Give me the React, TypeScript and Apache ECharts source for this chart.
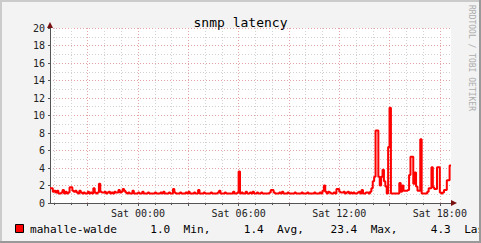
import { useEffect, useRef } from "react";
import * as echarts from "echarts";

const titleText = "snmp latency";
const seriesName = "mahalle-walde";
const watermark = "RRDTOOL / TOBI OETIKER";
const startMinute = 18 * 60 + 45; // Fri 18:45
const stepMinutes = 5;

// one row = one hour of 5-minute samples
const latency: number[] = [
  1.7, 1.7, 1.3, 1.4, 1.2, 1.4, 1.1, 1.1, 1.2, 1.5, 1.1, 1.3,
  1.1, 1.2, 1.8, 1.8, 1.4, 1.3, 1.4, 1.2, 1.1, 1.4, 1.2, 1.1,
  1.2, 1.1, 1.1, 1.3, 1.1, 1.2, 1.1, 1.7, 1.2, 1.1, 1.2, 2.2,
  1.3, 1.2, 1.2, 1.3, 1.1, 1.2, 1.3, 1.1, 1.2, 1.1, 1.3, 1.2,
  1.2, 1.5, 1.2, 1.3, 1.6, 1.4, 1.2, 1.1, 1.2, 1.1, 1.1, 1.4,
  1.1, 1.1, 1.1, 1.2, 1.1, 1.1, 1.3, 1.1, 1.1, 1.1, 1.2, 1.1,
  1.1, 1.1, 1.1, 1.2, 1.1, 1.1, 1.1, 1.2, 1.1, 1.3, 1.1, 1.1,
  1.1, 1.2, 1.1, 1.1, 1.6, 1.2, 1.1, 1.1, 1.1, 1.2, 1.1, 1.1,
  1.1, 1.2, 1.1, 1.3, 1.1, 1.1, 1.1, 1.2, 1.1, 1.1, 1.5, 1.1,
  1.1, 1.1, 1.2, 1.1, 1.1, 1.1, 1.1, 1.2, 1.1, 1.1, 1.1, 1.1,
  1.2, 1.4, 1.1, 1.1, 1.1, 1.2, 1.1, 1.1, 1.1, 1.1, 1.1, 1.3,
  1.1, 1.1, 1.2, 3.6, 1.1, 1.2, 1.1, 1.1, 1.3, 1.1, 1.1, 1.2,
  1.1, 1.3, 1.1, 1.1, 1.2, 1.1, 1.1, 1.2, 1.1, 1.1, 1.1, 1.1,
  1.1, 1.2, 1.5, 1.5, 1.2, 1.1, 1.1, 1.1, 1.2, 1.1, 1.3, 1.1,
  1.1, 1.1, 1.2, 1.1, 1.1, 1.1, 1.1, 1.2, 1.1, 1.1, 1.1, 1.1,
  1.2, 1.1, 1.1, 1.1, 1.2, 1.1, 1.1, 1.1, 1.1, 1.2, 1.1, 1.1,
  1.1, 1.2, 1.1, 1.4, 2.0, 1.3, 1.1, 1.3, 1.2, 1.1, 1.1, 1.2,
  1.1, 1.6, 1.6, 1.3, 1.2, 1.2, 1.3, 1.1, 1.2, 1.3, 1.1, 1.2,
  1.1, 1.2, 1.1, 1.1, 1.2, 1.3, 1.1, 1.5, 1.1, 1.1, 1.2, 1.2,
  1.1, 1.3, 1.7, 2.5, 3.0, 8.3, 8.3, 3.0, 2.0, 3.0, 3.8, 2.5,
  1.9, 1.1, 6.4, 10.9, 1.1, 1.1, 1.1, 1.1, 1.1, 1.1, 2.3, 1.3,
  2.0, 1.4, 1.4, 1.4, 1.5, 3.2, 5.3, 5.3, 2.2, 3.5, 1.9, 1.4,
  1.4, 7.3, 1.1, 1.1, 1.1, 1.1, 1.3, 1.7, 1.7, 4.1, 1.8, 1.6,
  1.6, 4.1, 4.1, 1.2, 1.1, 1.2, 1.5, 1.5, 2.6, 2.6, 4.3, 4.3,
];

const statValues = [1.0, 1.4, 23.4, 4.3];
const statLabels = ["Min,", "Avg,", "Max,", "Last"];
const yMin = 0;
const yMax = 20;

const pad2 = (n: number) => String(n).padStart(2, "0");
const minuteOf = (i: number) => (startMinute + i * stepMinutes) % 1440;
const categories = latency.map((_, i) => {
  const total = startMinute + i * stepMinutes;
  const day = total >= 1440 ? "Sat" : "Fri";
  const m = total % 1440;
  return `${day} ${pad2(Math.floor(m / 60))}:${pad2(m % 60)}`;
});
const legendLine = (
  seriesName +
  statValues.map((v, k) => v.toFixed(1).padStart(8) + "  " + statLabels[k]).join("")
).replace(/ /g, "\u00A0");

const mono = "DejaVu Sans Mono";
const minorGrid = "#d2d2d2";
const majorGrid = "#e6a3a3";
const axisColor = "#555555";
const arrowColor = "#7a1010";

export default function App() {
  const ref = useRef<HTMLDivElement>(null);
  useEffect(() => {
    if (!ref.current) return;
    const chart = echarts.init(ref.current, undefined, { renderer: "svg" });
    const isHour = (i: number) => minuteOf(i) % 60 === 0;
    const isMajor = (i: number) => minuteOf(i) % 180 === 0;
    const isLabel = (i: number) => minuteOf(i) % 360 === 0;
    chart.setOption({
      animation: false,
      backgroundColor: "#f3f3f3",
      title: {
        text: titleText,
        left: "center",
        top: 11,
        textStyle: { fontFamily: mono, fontSize: 13, fontWeight: "normal", color: "#000" },
      },
      grid: {
        left: 50,
        top: 28,
        width: 401,
        height: 175,
        show: true,
        backgroundColor: "#ffffff",
        borderWidth: 0,
      },
      xAxis: [
        {
          type: "category",
          data: categories,
          boundaryGap: false,
          axisLine: { show: true, lineStyle: { color: axisColor, width: 1 } },
          axisTick: { show: true, length: 2, interval: (i: number) => isHour(i), lineStyle: { color: axisColor } },
          axisLabel: { show: false },
          splitLine: {
            show: true,
            interval: (i: number) => isHour(i),
            lineStyle: { color: minorGrid, type: [1, 2], width: 1 },
          },
        },
        {
          type: "category",
          data: categories,
          boundaryGap: false,
          position: "bottom",
          axisLine: { show: false },
          axisTick: { show: true, length: 3, interval: (i: number) => isMajor(i), lineStyle: { color: axisColor } },
          axisLabel: {
            interval: (i: number) => isLabel(i),
            fontFamily: mono,
            fontSize: 10,
            color: "#222",
            margin: 5,
          },
          splitLine: {
            show: true,
            interval: (i: number) => isMajor(i),
            lineStyle: { color: majorGrid, type: [1, 2], width: 1 },
          },
        },
      ],
      yAxis: [
        {
          type: "value",
          min: yMin,
          max: yMax,
          interval: 1,
          position: "left",
          axisLine: { show: false },
          axisTick: { show: false },
          axisLabel: { show: false },
          splitLine: { show: true, lineStyle: { color: minorGrid, type: [1, 2], width: 1 } },
        },
        {
          type: "value",
          min: yMin,
          max: yMax,
          interval: 2,
          position: "left",
          axisLine: { show: true, lineStyle: { color: axisColor, width: 1 } },
          axisTick: { show: true, length: 2, lineStyle: { color: axisColor } },
          axisLabel: { fontFamily: mono, fontSize: 10, color: "#222", margin: 5 },
          splitLine: { show: true, lineStyle: { color: majorGrid, type: [1, 2], width: 1 } },
        },
      ],
      series: [
        {
          name: seriesName,
          type: "line",
          xAxisIndex: 0,
          yAxisIndex: 0,
          data: latency,
          step: "end",
          symbol: "none",
          showSymbol: false,
          lineStyle: { color: "#ff0000", width: 2 },
          z: 3,
        },
      ],
      graphic: [
        {
          type: "polygon",
          shape: { points: [[47, 28], [53, 28], [50, 22]] },
          style: { fill: arrowColor },
          z: 10,
        },
        {
          type: "polygon",
          shape: { points: [[451, 200], [451, 206], [457, 203]] },
          style: { fill: arrowColor },
          z: 10,
        },
        {
          type: "rect",
          shape: { x: 15.5, y: 224.5, width: 8, height: 8 },
          style: { fill: "#ff0000", stroke: "#000", lineWidth: 1 },
          z: 10,
        },
        {
          type: "text",
          x: 30,
          y: 229,
          style: {
            text: legendLine,
            font: `11.1px "${mono}"`,
            fill: "#000",
            textAlign: "left",
            textVerticalAlign: "middle",
          },
          z: 10,
        },
        {
          type: "text",
          x: 471,
          y: 5,
          rotation: -Math.PI / 2,
          style: {
            text: watermark,
            font: `8px "${mono}"`,
            fill: "#acacac",
            textAlign: "left",
            textVerticalAlign: "middle",
          },
          z: 10,
        },
        { type: "rect", shape: { x: 0, y: 0, width: 481, height: 2 }, style: { fill: "#cbcbcb" }, z: 20 },
        { type: "rect", shape: { x: 0, y: 0, width: 2, height: 243 }, style: { fill: "#cbcbcb" }, z: 20 },
        { type: "rect", shape: { x: 479, y: 0, width: 2, height: 243 }, style: { fill: "#999999" }, z: 21 },
        { type: "rect", shape: { x: 0, y: 241, width: 481, height: 2 }, style: { fill: "#999999" }, z: 21 },
      ],
    });
    return () => chart.dispose();
  }, []);
  return <div ref={ref} style={{ position: "fixed", left: 0, top: 0, width: 481, height: 243 }} />;
}
